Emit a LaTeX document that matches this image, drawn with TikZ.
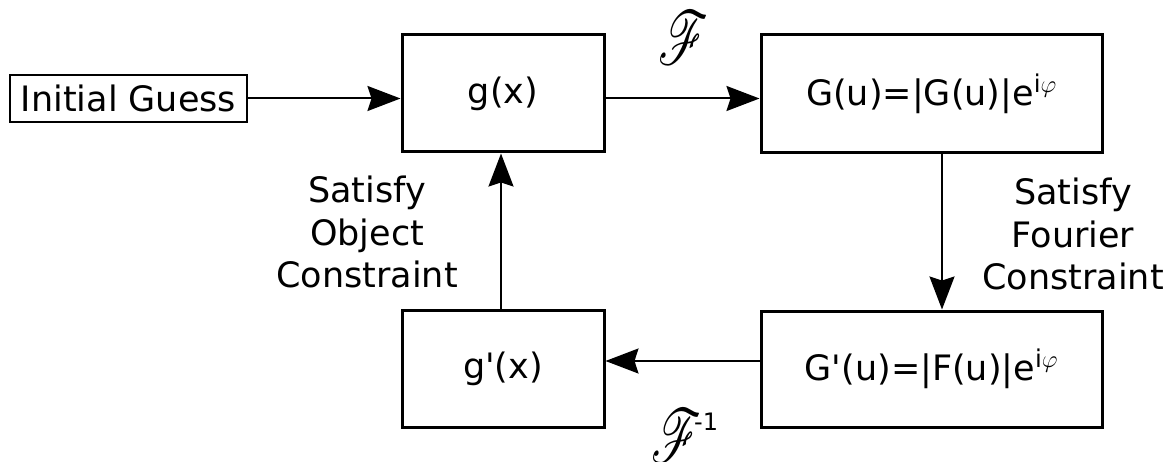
\documentclass[tikz,border=0pt]{standalone}
\usepackage{fix-cm}
\usepackage{mathrsfs}
\usepackage{graphicx}
\usepackage{fontspec}
\setmainfont{DejaVu Sans}[Ligatures=TeXOff]
\usetikzlibrary{arrows.meta,calc}

\tikzset{
  block/.style={draw, line width=3pt, inner sep=0pt, anchor=center},
  smallblock/.style={draw, line width=2pt, inner sep=0pt, anchor=center},
  arr/.style={line width=2pt, -{Stealth[length=33pt, width=25pt, inset=4pt]}},
  lbl/.style={align=center, inner sep=0pt},
}
\newcommand{\bodyfont}{\fontsize{35}{42.5}\selectfont}
\newcommand{\transf}{\resizebox*{50pt}{53pt}{$\mathscr{F}$}}

\begin{document}
\begin{tikzpicture}[x=1pt, y=-1pt, font=\bodyfont]
\useasboundingbox (0,0) rectangle (1172,462);

% starting estimate
\node[smallblock, minimum width=237pt, minimum height=47pt] (init) at (128.5,98.5) {Initial Guess};

% object-domain blocks
\node[block, minimum width=202pt, minimum height=117pt] (gx)  at (503,93.5)  {g(x)};
\node[block, minimum width=202pt, minimum height=117pt] (gpx) at (503,368.5) {g'(x)};

% Fourier-domain blocks
\node[block, minimum width=341pt, minimum height=118pt] (Gu)  at (931.5,94)  {G(u)=|G(u)|e\textsuperscript{i$\varphi$}};
\node[block, minimum width=341pt, minimum height=116pt] (Gpu) at (931.5,369) {G'(u)=|F(u)|e\textsuperscript{i$\varphi$}};

% loop connectors
\draw[arr] (init.east) -- (init -| gx.west);
\draw[arr] (gx.east |- init) -- (Gu.west |- init);
\coordinate (dn) at ($(Gu.south)+(10.5,0)$);
\draw[arr] (dn) -- (dn |- Gpu.north);
\coordinate (lf) at ($(Gpu.west)+(0,-8)$);
\draw[arr] (lf) -- (lf -| gpx.east);
\coordinate (up) at ($(gpx.north)+(-2,0)$);
\draw[arr] (up) -- (up |- gx.south);

% transform labels
\node[inner sep=0pt] (ft) at (683,38) {\transf};
\node[inner sep=0pt] (ift) at (676,436) {\transf};
\node[inner sep=0pt, anchor=south west, font=\fontsize{24}{24}\selectfont] (ift1) at (694,431) {-1};

% constraint labels
\node[lbl] (objc) at (367,232) {Satisfy\\Object\\Constraint};
\node[lbl] (fouc) at (1073,234) {Satisfy\\Fourier\\Constraint};
\end{tikzpicture}
\end{document}
